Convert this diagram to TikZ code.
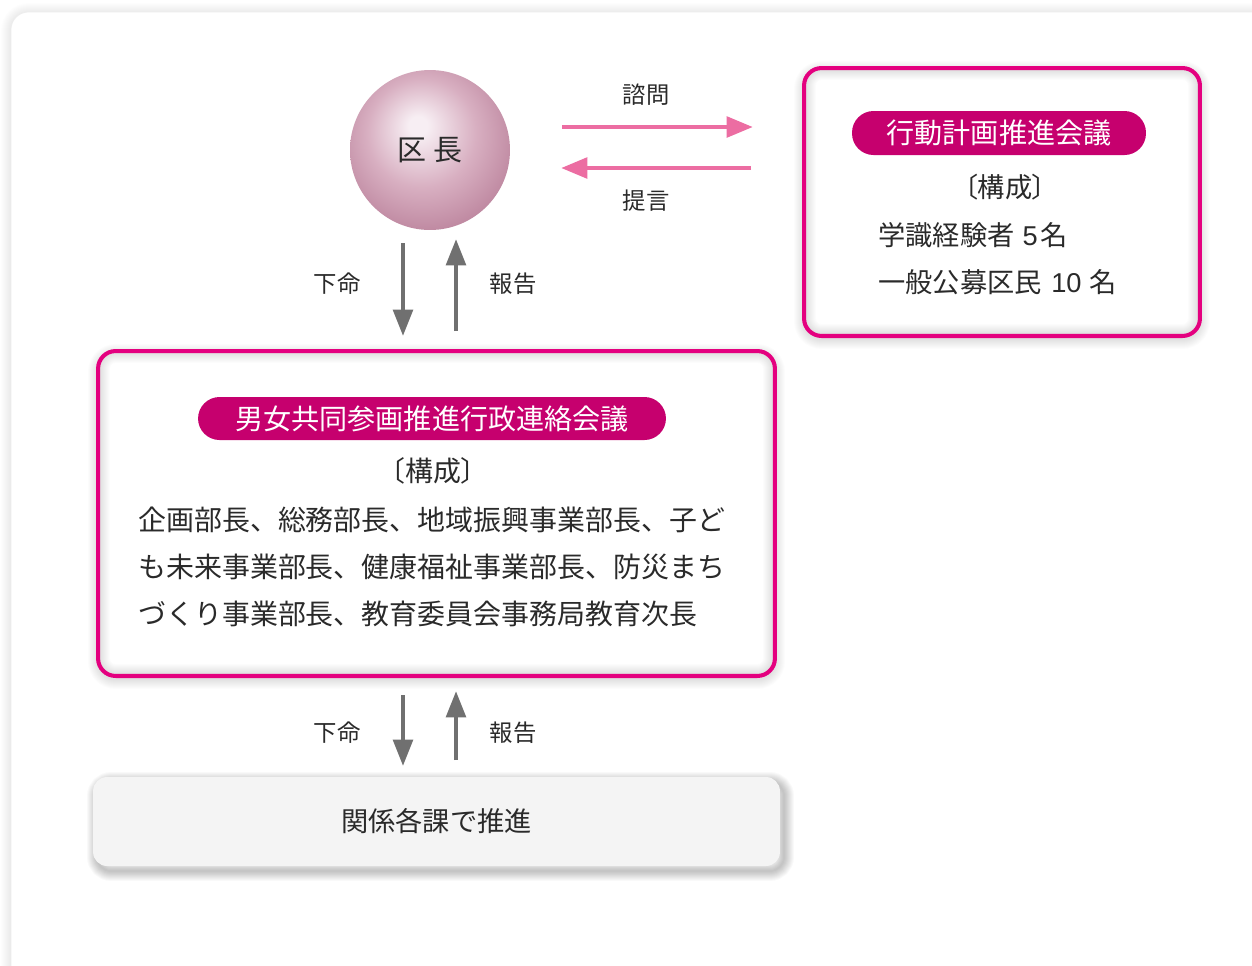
\documentclass[tikz,border=0pt]{standalone}
\usepackage{fontspec}
\setmainfont{Noto Sans CJK JP}
\newfontfamily\jpp[RawFeature=+palt]{Noto Sans CJK JP}
\newfontfamily\latn{Liberation Sans}
\usetikzlibrary{arrows.meta}
\definecolor{mag}{HTML}{E4007F}
\definecolor{pillc}{HTML}{C6006E}
\definecolor{pinkarr}{HTML}{EC6DA2}
\definecolor{grayarr}{HTML}{707070}
\definecolor{txt}{HTML}{2A2A2A}
\definecolor{ballA}{HTML}{F7EEF3}
\definecolor{ballB}{HTML}{D8AFC1}
\definecolor{ballC}{HTML}{B47893}
\definecolor{boxgray}{HTML}{F4F4F4}
\pgfdeclareradialshading{kuchoshade}{\pgfpoint{-4bp}{8bp}}{color(0bp)=(ballA); color(3bp)=(ballA); color(17bp)=(ballB); color(34bp)=(ballC); color(50bp)=(ballC)}
\newcommand{\softshadow}[6]{%
  \foreach \w in {2,4,...,20}{%
    \draw[black, opacity=#6, line width=\w*0.5669pt, rounded corners=#5] (#1,#2) rectangle (#3,#4);}}
\tikzset{
  innershade/.style={path picture={
    \foreach \w in {2,4,...,24}{
      \draw[black, opacity=0.012, line width=\w*0.5669pt, rounded corners=#1]
        (path picture bounding box.south west) rectangle (path picture bounding box.north east);}
  }},
  pinkbox/.style={draw=mag, line width=2.3pt, rounded corners=10pt, fill=white,
    innershade=10pt},
  pillst/.style={fill=pillc, text=white, rounded corners=0.43cm, inner sep=0pt,
    font=\fontsize{16}{16}\selectfont},
  graybox/.style={fill=boxgray, rounded corners=8pt, text=txt,
    font=\fontsize{15.5}{16}\selectfont},
  lbl/.style={text=txt, inner sep=0pt, font=\fontsize{13.3}{16}\selectfont},
  body/.style={text=txt, inner sep=0pt, font=\fontsize{15.5}{26.8}\selectfont},
  mainbody/.style={text=txt, inner sep=0pt, align=left, font=\fontsize{15.9}{26.9}\selectfont},
  pinka/.style={draw=pinkarr, line width=2.8pt, -{Triangle[length=15pt,width=11.5pt]}},
  graya/.style={draw=grayarr, line width=2.6pt, -{Triangle[length=15pt,width=11pt]}},
}
\begin{document}
\begin{tikzpicture}[x=0.02cm, y=-0.02cm]
\useasboundingbox (0,0) rectangle (1252,965);
\fill[white] (0,0) rectangle (1252,965);
% outer card
\softshadow{11}{13}{1290}{1010}{10pt}{0.006}
\path[draw=black!7, fill=white, rounded corners=10pt] (11,12) rectangle (1290,1010);

% shadows
\softshadow{804}{71}{1200}{339}{10pt}{0.012}
\softshadow{98}{354}{775}{679}{10pt}{0.012}
\softshadow{97}{782}{784}{871}{8pt}{0.022}

% ward chief
\node[circle, minimum size=3.2cm, inner sep=0pt, shading=kuchoshade, text=txt,
  font=\fontsize{16.5}{18}\selectfont] (kucho) at (430,150) {区 長};

% action plan council
\node[pinkbox, minimum width=7.92cm, minimum height=5.36cm] (kaigi) at (1002,202) {};
\node[pillst, minimum width=5.88cm, minimum height=0.88cm] (pill1) at (999,133) {行動計画推進会議};
\node[body, font=\jpp\fontsize{15.5}{18}\selectfont] (kosei1) at (1005,187) {〔構成〕};
\node[body, anchor=west] (mem1) at (878,235) {学識経験者\hspace{0.3em}{\latn 5}\hspace{0.1em}名};
\node[body, anchor=west] (mem2) at (878,282) {一般公募区民\hspace{0.35em}{\latn 10}\hspace{0.3em}名};

% liaison council
\node[pinkbox, minimum width=13.54cm, minimum height=6.5cm] (renraku) at (436.5,513.5) {};
\node[pillst, minimum width=9.36cm, minimum height=0.86cm] (pill2) at (432,418.5) {男女共同参画推進行政連絡会議};
\node[body, font=\jpp\fontsize{15.9}{18}\selectfont] (kosei2) at (433,471) {〔構成〕};
\node[mainbody, anchor=west] (members) at (138,567)
  {企画部長、総務部長、地域振興事業部長、子ど\\も未来事業部長、健康福祉事業部長、防災まち\\づくり事業部長、教育委員会事務局教育次長};

% related sections
\node[graybox, minimum width=13.74cm, minimum height=1.78cm] (kakka) at (436.5,821.5) {関係各課で推進};

% coordinates for arrows
\coordinate (s1a) at (562,127); \coordinate (s1b) at (753,127);
\coordinate (s2a) at (751,168); \coordinate (s2b) at (561,168);
\coordinate (d1a) at (403,243); \coordinate (d1b) at (403,336);
\coordinate (u1a) at (456,331); \coordinate (u1b) at (456,239);
\coordinate (d2a) at (403,695); \coordinate (d2b) at (403,766);
\coordinate (u2a) at (456,760); \coordinate (u2b) at (456,691);

\draw[pinka] (s1a) -- (s1b);
\draw[pinka] (s2a) -- (s2b);
\draw[graya] (d1a) -- (d1b);
\draw[graya] (u1a) -- (u1b);
\draw[graya] (d2a) -- (d2b);
\draw[graya] (u2a) -- (u2b);

\node[lbl] (shimon) at (646,95) {諮問};
\node[lbl] (teigen) at (646,201) {提言};
\node[lbl] (kamei1) at (337,284) {下命};
\node[lbl] (hokoku1) at (513,284) {報告};
\node[lbl] (kamei2) at (337,733) {下命};
\node[lbl] (hokoku2) at (513,733) {報告};
\end{tikzpicture}
\end{document}
